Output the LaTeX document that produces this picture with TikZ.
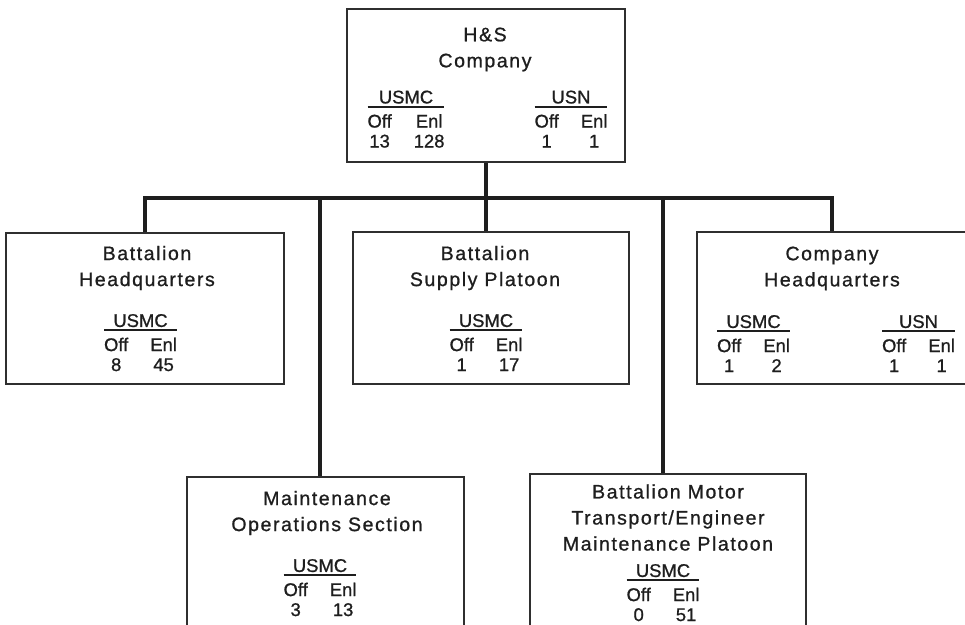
\documentclass[tikz,border=0pt]{standalone}
\usepackage{fontspec}
\setmainfont{Liberation Sans}[FakeBold=0.9]
\newfontfamily\namefont{Liberation Sans}[LetterSpace=8,FakeBold=0.9]
\usetikzlibrary{positioning}
\definecolor{ink}{HTML}{1E1E1E}
\definecolor{frame}{HTML}{2F2F2F}
\setlength{\arrayrulewidth}{1.2pt}
\newcommand{\strengthtab}[3]{%
  \begin{tabular}{@{}c@{\hspace{0.55cm}}c@{}}
    \multicolumn{2}{c}{#1}\\[-2.5pt]\hline
    \rule{0pt}{14.2pt}Off & Enl\\
    #2 & #3
  \end{tabular}}
\tikzset{
  unitbox/.style={draw=frame,line width=1.8pt,fill=white,inner sep=0pt},
  unitname/.style={align=center,text=ink,inner sep=0pt,font=\namefont\fontsize{13.9}{18.5}\selectfont},
  strength/.style={text=ink,inner sep=0pt,font=\fontsize{13.1}{14.2}\selectfont},
  link/.style={draw=ink,line width=3.5pt},
}

\begin{document}
\begin{tikzpicture}[x=0.025cm,y=-0.025cm]
  \fill[white] (0,0) rectangle (965,624);
  \useasboundingbox (0,0) rectangle (965,624);
  % boxes
  \node[unitbox,minimum width=6.95cm,minimum height=3.825cm] (hs) at (486,85.5) {};
  \node[unitbox,minimum width=6.95cm,minimum height=3.775cm] (bhq) at (145,308.5) {};
  \node[unitbox,minimum width=6.9cm,minimum height=3.8cm] (bsp) at (491,308) {};
  \node[unitbox,minimum width=6.75cm,minimum height=3.8cm] (chq) at (832,308) {};
  \node[unitbox,minimum width=6.925cm,minimum height=4.325cm] (mos) at (325.5,563.5) {};
  \node[unitbox,minimum width=6.9cm,minimum height=4.4cm] (mtp) at (668,562) {};
  % connectors
  \coordinate (bus) at (486,198);
  \coordinate (mosin) at ([xshift=-0.1375cm]mos.north);
  \coordinate (mtpin) at ([xshift=-0.125cm]mtp.north);
  \draw[link] (hs.south) -- (bus);
  \draw[link] (bhq.north) |- (bus) -| (chq.north);
  \draw[link] (bus) -- (bus |- bsp.north);
  \draw[link] (mosin) -- (mosin |- bus);
  \draw[link] (mtpin) -- (mtpin |- bus);
  % texts
  \node[unitname] (hsname) at (485,49.5) {H\&S\\Company};
  \node[strength] (hsusmc) at (406,121.5) {\strengthtab{USMC}{13}{128}};
  \node[strength] (hsusn) at (571,121.5) {\strengthtab{USN}{1}{1}};
  \node[unitname] (bhqname) at (147,268) {Battalion\\Headquarters};
  \node[strength] (bhqusmc) at (140.5,345) {\strengthtab{USMC}{8}{45}};
  \node[unitname] (bspname) at (485,268) {Battalion\\Supply Platoon};
  \node[strength] (bspusmc) at (486,345) {\strengthtab{USMC}{1}{17}};
  \node[unitname] (chqname) at (832,268.5) {Company\\Headquarters};
  \node[strength] (chqusmc) at (753.5,346) {\strengthtab{USMC}{1}{2}};
  \node[strength] (chqusn) at (918.5,346) {\strengthtab{USN}{1}{1}};
  \node[unitname] (mosname) at (327,513) {Maintenance\\Operations Section};
  \node[strength] (mosusmc) at (320,590) {\strengthtab{USMC}{3}{13}};
  \node[unitname] (mtpname) at (668,517.5) {Battalion Motor\\Transport/Engineer\\Maintenance Platoon};
  \node[strength] (mtpusmc) at (663,595) {\strengthtab{USMC}{0}{51}};
\end{tikzpicture}
\end{document}
